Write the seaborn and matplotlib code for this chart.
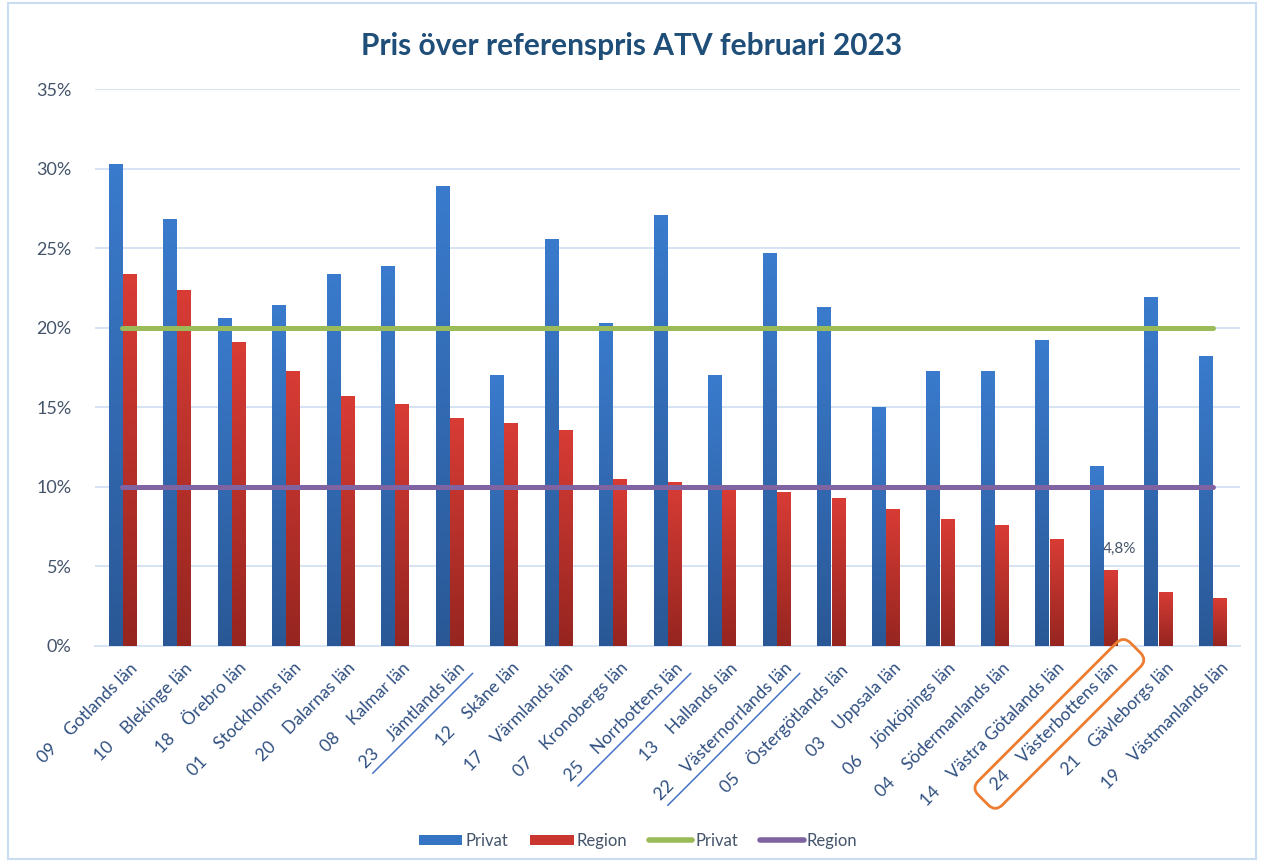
import numpy as np
import pandas as pd
import seaborn as sns
import matplotlib
matplotlib.use("Agg")
import matplotlib.pyplot as plt
from matplotlib.colors import LinearSegmentedColormap
from matplotlib.patches import Patch, Rectangle, FancyBboxPatch
from matplotlib.lines import Line2D
import matplotlib.transforms as mtransforms

# ---------------- data ----------------
codes = ["09", "10", "18", "01", "20", "08", "23", "12", "17", "07", "25",
         "13", "22", "05", "03", "06", "04", "14", "24", "21", "19"]
lan = ["Gotlands län", "Blekinge län", "Örebro län", "Stockholms län", "Dalarnas län",
       "Kalmar län", "Jämtlands län", "Skåne län", "Värmlands län", "Kronobergs län",
       "Norrbottens län", "Hallands län", "Västernorrlands län", "Östergötlands län",
       "Uppsala län", "Jönköpings län", "Södermanlands län", "Västra Götalands län",
       "Västerbottens län", "Gävleborgs län", "Västmanlands län"]
privat = [30.3, 26.8, 20.6, 21.4, 23.4, 23.9, 28.9, 17.0, 25.6, 20.3, 27.1,
          17.0, 24.7, 21.3, 15.0, 17.3, 17.3, 19.2, 11.3, 21.9, 18.2]
region = [23.4, 22.4, 19.1, 17.3, 15.7, 15.2, 14.3, 14.0, 13.6, 10.5, 10.3,
          9.9, 9.7, 9.3, 8.6, 8.0, 7.6, 6.7, 4.8, 3.4, 3.0]
ref_privat = [20, 20, 20, 20, 20, 20, 20, 20, 20, 20, 20,
              20, 20, 20, 20, 20, 20, 20, 20, 20, 20]
ref_region = [10, 10, 10, 10, 10, 10, 10, 10, 10, 10, 10,
              10, 10, 10, 10, 10, 10, 10, 10, 10, 10]
yticks = [0, 5, 10, 15, 20, 25, 30, 35]
underlined = ["Jämtlands län", "Norrbottens län", "Västernorrlands län"]
boxed = "Västerbottens län"
note_lan = "Västerbottens län"
note_text = "4,8%"
title = "Pris över referenspris ATV februari 2023"

labels = [f"{c}    {n}" for c, n in zip(codes, lan)]

df = pd.DataFrame({
    "label": labels * 2,
    "value": privat + region,
    "serie": ["Privat"] * len(labels) + ["Region"] * len(labels),
})

# ---------------- style ----------------
sns.set_theme(style="white")
plt.rcParams['font.family'] = ['Lato', 'DejaVu Sans']

TXT = "#44546A"
GRID = "#D6E3F3"
BLUE = "#3573C3"
RED = "#C9352F"
GREEN = "#9BBB59"
PURPLE = "#8064A2"

fig = plt.figure(figsize=(12.64, 8.65), dpi=100)
ax = fig.add_axes([0.0752, 0.2532, 0.9058, 0.6439])

sns.barplot(data=df, x="label", y="value", hue="serie",
            palette={"Privat": BLUE, "Region": RED}, saturation=1,
            width=0.52, gap=0.06, ax=ax, legend=False, zorder=3)

xs = np.arange(len(labels))
sns.lineplot(x=xs, y=ref_privat, color=GREEN, lw=3.6, ax=ax, zorder=4)
sns.lineplot(x=xs, y=ref_region, color=PURPLE, lw=3.6, ax=ax, zorder=4)

# gradient fill on bars
cm_blue = LinearSegmentedColormap.from_list("b", ["#2A5896", "#3A7BCD"])
cm_red = LinearSegmentedColormap.from_list("r", ["#962520", "#D83C35"])
grad = np.linspace(0, 1, 256).reshape(-1, 1)
bars = list(ax.patches)
for i, p in enumerate(bars):
    x0, y0 = p.get_xy()
    w, h = p.get_width(), p.get_height()
    cm = cm_blue if i < len(labels) else cm_red
    im = ax.imshow(grad, extent=[x0, x0 + w, y0, y0 + h], origin="lower",
                   aspect="auto", cmap=cm, zorder=3, interpolation="bilinear")
    im.set_clip_path(p)
    p.set_facecolor("none")
    p.set_edgecolor("none")

ax.set_xlim(-0.5, len(labels) - 0.5)
ax.set_ylim(0, 35)
ax.set_yticks(yticks)
ax.set_yticklabels([f"{t}%" for t in yticks])
ax.set_xlabel("")
ax.set_ylabel("")
ax.yaxis.grid(True, color=GRID, lw=1.4, zorder=0)
ax.set_axisbelow(True)
for s in ["left", "right", "top"]:
    ax.spines[s].set_visible(False)
ax.spines["bottom"].set_color(GRID)
ax.spines["bottom"].set_linewidth(1.4)
ax.tick_params(axis="y", length=0, pad=17, labelsize=13, labelcolor=TXT)
ax.tick_params(axis="x", length=0, pad=10, labelsize=12.5, labelcolor="#2F4F80")
shift = mtransforms.ScaledTranslation(7 / 100, 0, fig.dpi_scale_trans)
for t in ax.get_xticklabels():
    t.set_rotation(45)
    t.set_ha("right")
    t.set_va("top")
    t.set_rotation_mode("anchor")
    t.set_transform(t.get_transform() + shift)

# annotation above bar
k = lan.index(note_lan)
rbar = bars[len(labels) + k]
ax.annotate(note_text, (rbar.get_x() + rbar.get_width() / 2, rbar.get_height()),
            xytext=(6, 10), textcoords="offset points", ha="center", va="bottom",
            fontsize=11, color=TXT, zorder=5)

# title
fig.text(0.5, 0.947, title, ha="center", va="center", fontsize=21.5,
         fontweight="bold", color="#1F4E79")

# legend
handles = [Patch(facecolor=BLUE, edgecolor="none"),
           Patch(facecolor=RED, edgecolor="none"),
           Line2D([0], [0], color=GREEN, lw=4),
           Line2D([0], [0], color=PURPLE, lw=4)]
leg = fig.legend(handles, ["Privat", "Region", "Privat", "Region"], loc="center",
                 bbox_to_anchor=(0.505, 0.028), ncol=4, frameon=False, fontsize=12,
                 handlelength=2.6, handleheight=0.6, columnspacing=1.3, handletextpad=0.2)
for t in leg.get_texts():
    t.set_color(TXT)

# border
fig.add_artist(Rectangle((8 / 1264, 6 / 865), 1248 / 1264, 856 / 865,
                         transform=fig.transFigure, fill=False,
                         ec="#C9DCF1", lw=1.5))

# underlines and box on tick labels
fig.canvas.draw()
renderer = fig.canvas.get_renderer()
r2 = np.sqrt(2)
for t in ax.get_xticklabels():
    txt = t.get_text()
    name = txt.split(None, 1)[1]
    bb = t.get_window_extent(renderer)
    S = bb.x1 - bb.x0
    hpx = t.get_fontsize() * fig.dpi / 72 * 1.15
    wpx = S * r2 - hpx
    blx, bly = bb.x0 + hpx / r2, bb.y0
    if name in underlined:
        off = 3
        x_a, y_a = blx + off / r2, bly - off / r2
        x_b, y_b = x_a + (wpx + 4) / r2, y_a + (wpx + 4) / r2
        fig.add_artist(Line2D([x_a, x_b], [y_a, y_b], transform=None,
                              color="#4472C4", lw=1.1))
    if name == boxed:
        tr = mtransforms.Affine2D().rotate_deg(45).translate(blx, bly)
        box = FancyBboxPatch((-18, -8), wpx + 46, hpx + 14,
                             boxstyle="round,pad=0,rounding_size=10",
                             transform=tr, fill=False, ec="#ED7D31", lw=2)
        fig.add_artist(box)

fig.savefig("out.png", dpi=100)
